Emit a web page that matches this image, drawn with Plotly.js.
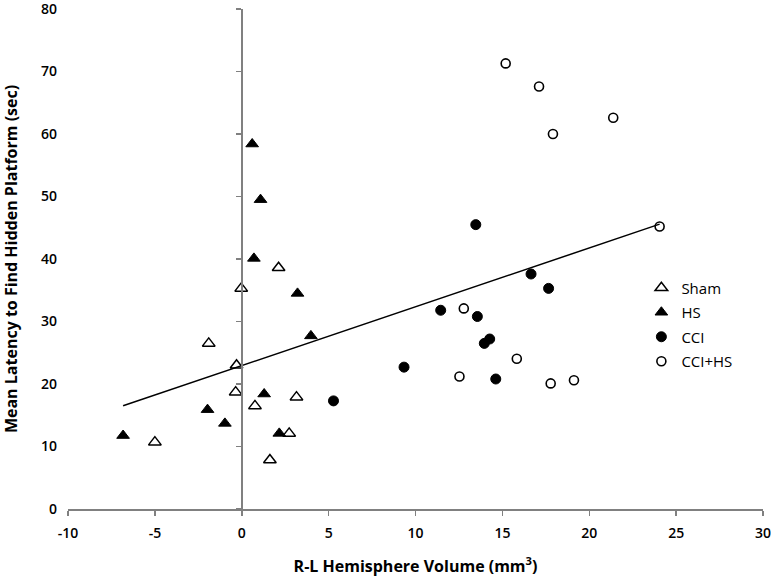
<!DOCTYPE html>
<html>
<head>
<meta charset="utf-8">
<script src="https://cdn.plot.ly/plotly-3.0.1.min.js"></script>
<style>html,body{margin:0;padding:0;background:#fff;}#chart{width:771px;height:577px;}</style>
</head>
<body>
<div id="chart"></div>
<script>
// R-L hemisphere volume (mm3) and mean latency (sec), per group
const shamX = [-5.0, -1.9, -0.3, -0.35, -0.03, 0.76, 1.62, 2.73, 3.15, 2.12];
const shamY = [10.7, 26.5, 23.0, 18.7, 35.3, 16.5, 7.85, 12.1, 17.9, 38.6];
const hsX = [-6.83, -1.97, -0.97, 1.29, 2.16, 0.60, 1.08, 0.70, 3.21, 3.98];
const hsY = [11.75, 15.9, 13.7, 18.4, 12.1, 58.4, 49.5, 40.1, 34.5, 27.7];
const cciX = [5.28, 9.34, 11.45, 13.56, 13.96, 14.27, 14.62, 16.65, 17.66, 13.47];
const cciY = [17.3, 22.7, 31.8, 30.8, 26.5, 27.2, 20.8, 37.6, 35.3, 45.5];
const cciHsX = [15.19, 17.11, 17.91, 21.38, 24.05, 12.78, 12.53, 15.83, 17.78, 19.12];
const cciHsY = [71.3, 67.6, 60.0, 62.6, 45.2, 32.1, 21.2, 24.05, 20.1, 20.6];
const groupNames = ["Sham", "HS", "CCI", "CCI+HS"];
const xTicks = [-10, -5, 0, 5, 10, 15, 20, 25, 30];
const yTicks = [0, 10, 20, 30, 40, 50, 60, 70, 80];

// linear trendline (least squares over all points)
const allX = shamX.concat(hsX, cciX, cciHsX);
const allY = shamY.concat(hsY, cciY, cciHsY);
const n = allX.length;
const mx = allX.reduce((a, b) => a + b, 0) / n;
const my = allY.reduce((a, b) => a + b, 0) / n;
let sxy = 0, sxx = 0;
for (let i = 0; i < n; i++) { sxy += (allX[i] - mx) * (allY[i] - my); sxx += (allX[i] - mx) ** 2; }
const slope = sxy / sxx, intercept = my - slope * mx;
const xMin = Math.min(...allX), xMax = Math.max(...allX);
const trendX = [xMin, xMax];
const trendY = trendX.map(v => intercept + slope * v);

const font = "Open Sans, DejaVu Sans, sans-serif";
const triOpen = {symbol: "triangle-up", size: 11, color: "#ffffff", line: {color: "#000", width: 1.5}};
const triFill = {symbol: "triangle-up", size: 11, color: "#000000", line: {color: "#000", width: 1}};
const cirFill = {symbol: "circle", size: 10, color: "#000000", line: {color: "#000", width: 1}};
const cirOpen = {symbol: "circle", size: 9, color: "#ffffff", line: {color: "#000", width: 1.6}};

const traces = [
  {x: trendX, y: trendY, mode: "lines", line: {color: "#000", width: 1.5}, showlegend: false, yaxis: "y2", hoverinfo: "skip"},
  {x: shamX, y: shamY, mode: "markers", name: groupNames[0], marker: triOpen, legendgroup: "a"},
  {x: hsX, y: hsY, mode: "markers", name: groupNames[1], marker: triFill, legendgroup: "b"},
  {x: cciX, y: cciY, mode: "markers", name: groupNames[2], marker: cirFill, legendgroup: "c"},
  {x: cciHsX, y: cciHsY, mode: "markers", name: groupNames[3], marker: cirOpen, legendgroup: "d"}
];

const layout = {
  width: 771, height: 577,
  margin: {l: 68, r: 8, t: 9, b: 68},
  paper_bgcolor: "#fff", plot_bgcolor: "#fff",
  showlegend: true,
  legend: {x: 0.825, xanchor: "left", y: 0.475, yanchor: "top", font: {family: font, size: 15, color: "#000"}, tracegroupgap: 2, traceorder: "grouped", bgcolor: "rgba(0,0,0,0)"},
  xaxis: {
    range: [-10, 30], tickvals: xTicks, ticktext: xTicks.map(String),
    showline: true, linecolor: "#808080", linewidth: 2,
    ticks: "outside", ticklen: 5, tickcolor: "#808080", tickwidth: 1.5,
    showgrid: false, zeroline: false, ticklabeloverflow: "allow",
    ticklabelstandoff: 5,
    tickfont: {family: font, size: 14, color: "#000", weight: 600},
    title: {text: "R-L Hemisphere Volume (mm<sup>3</sup>)", font: {family: font, size: 16, color: "#000", weight: "bold"}, standoff: 22}
  },
  yaxis: {
    range: [0, 80], tickvals: yTicks, ticktext: yTicks.map(String),
    showline: false, ticks: "", showgrid: false, zeroline: false,
    ticklabelstandoff: 10, ticklabeloverflow: "allow",
    tickfont: {family: font, size: 14, color: "#000", weight: 600},
    title: {text: "Mean Latency to Find Hidden Platform (sec)", font: {family: font, size: 16, color: "#000", weight: "bold"}, standoff: 22}
  },
  yaxis2: {
    range: [0, 80], tickvals: yTicks, overlaying: "y", anchor: "free", position: 0.25, side: "left",
    showline: true, linecolor: "#808080", linewidth: 2,
    ticks: "outside", ticklen: 5, tickcolor: "#808080", tickwidth: 1.5,
    showticklabels: false, showgrid: false, zeroline: false
  }
};

Plotly.newPlot("chart", traces, layout, {displayModeBar: false, staticPlot: true});
</script>
</body>
</html>
